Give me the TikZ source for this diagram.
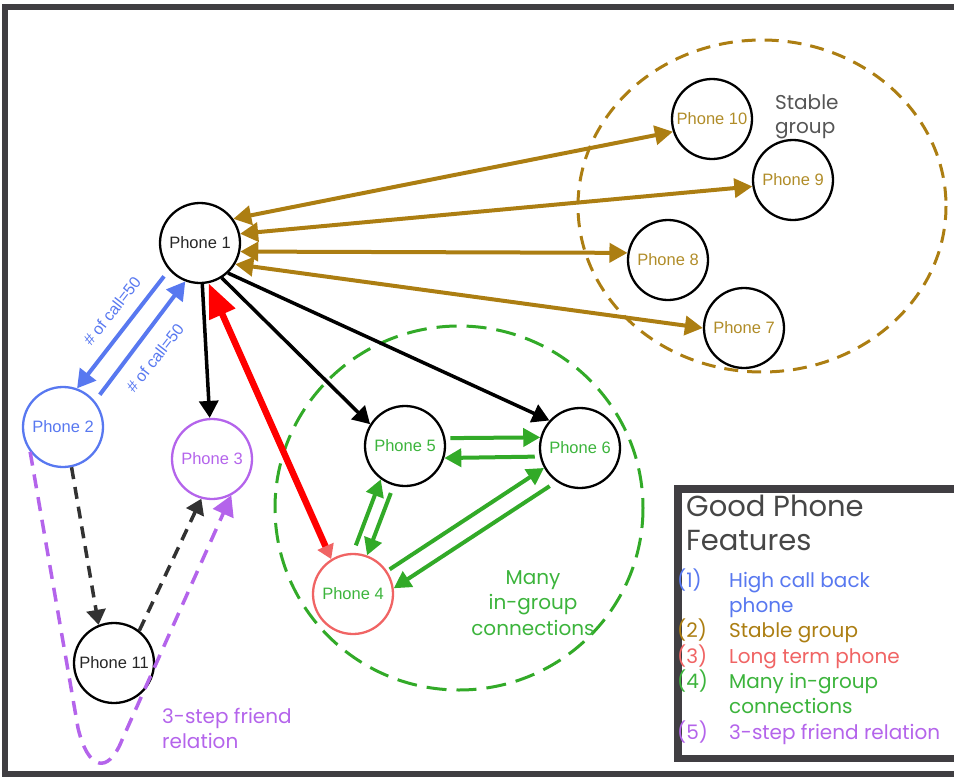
\documentclass[tikz,border=0pt]{standalone}
\usepackage{fontspec}
\setmainfont{Poppins}
\newfontfamily\arialf{Liberation Sans}
\usetikzlibrary{arrows.meta}
\definecolor{framec}{RGB}{64,62,66}
\definecolor{brownc}{RGB}{172,126,18}
\definecolor{browntxt}{RGB}{176,140,40}
\definecolor{bluec}{RGB}{88,120,240}
\definecolor{greenc}{RGB}{50,170,40}
\definecolor{greentxt}{RGB}{60,180,60}
\definecolor{redc}{RGB}{255,0,0}
\definecolor{pinkc}{RGB}{240,100,100}
\definecolor{purplec}{RGB}{180,100,235}
\definecolor{greytxt}{RGB}{85,85,85}
\definecolor{darkc}{RGB}{50,50,50}
\tikzset{
  phone/.style={circle, draw=black, line width=2.3pt, minimum size=80pt, inner sep=0pt, font=\arialf\fontsize{16.5}{19}\selectfont},
  brarrow/.style={draw=brownc, line width=4pt, {Triangle[length=18pt,width=19pt]}-{Triangle[length=18pt,width=19pt]}},
  blkarrow/.style={draw=black, line width=3.5pt, -{Triangle[length=17pt,width=19pt]}},
  grarrow/.style={draw=greenc, line width=4pt, -{Triangle[length=17pt,width=18pt]}},
  blarrow/.style={draw=bluec, line width=4pt, -{Triangle[length=18pt,width=20pt]}},
  dsharrow/.style={draw=darkc, line width=3.5pt, dash pattern=on 12pt off 8pt, -{Triangle[length=15pt,width=19pt]}},
  lbl/.style={anchor=base west, inner sep=0pt, font=\fontsize{20}{25.5}\selectfont},
  calllbl/.style={text=bluec, rotate=52, inner sep=0pt, font=\arialf\fontsize{16}{18}\selectfont},
}
\begin{document}
\begin{tikzpicture}[x=1pt,y=-1pt]
\useasboundingbox (0,0) rectangle (954,777);
% outer frame (open to the right)
\draw[framec, line width=6pt] (954,7) -- (5,7) -- (5,774) -- (954,774);

% group circles
\draw[brownc, line width=3pt, dash pattern=on 14pt off 9pt] (762,206) ellipse [x radius=184, y radius=166];
\draw[greenc, line width=3pt, dash pattern=on 20pt off 10pt] (459,508) ellipse [x radius=184, y radius=182];

% nodes
\node[phone, text=black!85] (p1) at (200,243) {Phone 1};
\node[phone, draw=bluec, text=bluec] (p2) at (63,427) {Phone 2};
\node[phone, draw=purplec, text=purplec] (p3) at (212,459) {Phone 3};
\node[phone, draw=pinkc, text=greentxt] (p4) at (353,594) {Phone 4};
\node[phone, text=greentxt] (p5) at (405,446) {Phone 5};
\node[phone, text=greentxt] (p6) at (580,448) {Phone 6};
\node[phone, text=browntxt] (p7) at (744,328) {Phone 7};
\node[phone, text=browntxt] (p8) at (668,260) {Phone 8};
\node[phone, text=browntxt] (p9) at (793,180) {Phone 9};
\node[phone, text=browntxt] (p10) at (712,119) {Phone 10};
\node[phone, text=black!85] (p11) at (114,663) {Phone 11};

% stable group arrows
\draw[brarrow] (p1.36) -- (p10.198);
\draw[brarrow] (p1.13) -- (p9.189);
\draw[brarrow] (p1.-12) -- (p8.170);
\draw[brarrow] (p1.-31) -- (p7.180);

% black arrows from phone 1
\draw[blkarrow] (p1) -- (p3);
\draw[blkarrow] (p1.-58) -- (p5.148);
\draw[blkarrow] (p1.-47) -- (p6.138);

% red long-term arrow
\draw[redc, line width=6.5pt, {Triangle[length=14pt,width=17pt,color=pinkc]}-{Triangle[length=34pt,width=27pt]}] (p4.122) -- (p1.-78);

% green in-group arrows
\draw[grarrow, shorten <=5pt] (p5.11) -- (p6.165);
\draw[grarrow, shorten <=5pt] (p6.192) -- (p5.-17);
\draw[grarrow, shorten <=8pt] (p4.90) -- (p5.234);
\draw[grarrow, shorten <=8pt] (p5.254) -- (p4.70);
\draw[grarrow, shorten <=3pt] (p4.34) -- (p6.209);
\draw[grarrow, shorten <=8pt] (p6.235) -- (p4.8);

% blue call-back arrows
\draw[blarrow, shorten <=8pt] (p1.221) -- (p2.70);
\draw[blarrow, shorten <=8pt] (p2.39) -- (p1.249);
\node[calllbl] (lb1) at (112,311) {\# of call=50};
\node[calllbl] (lb2) at (155,358) {\# of call=50};

% dashed 3-step path
\draw[dsharrow] (p2.-78) -- (p11.112);
\draw[dsharrow] (p11.52) -- (p3.255);
\draw[purplec, line width=3.5pt, dash pattern=on 14pt off 9pt, -{Triangle[length=20pt,width=22pt]}]
  (p2.217) -- (78,728) .. controls (88,770) and (108,775) .. (122,740) -- (p3.-62);

% texts
\node[lbl, text=greytxt] (stab) at (775,109) {Stable};
\node[lbl, text=greytxt] (stab2) at (775,133) {group};
\node[font=\fontsize{20}{25.5}\selectfont, text=greentxt, align=center, anchor=base] (many) at (533,635) {Many\\in-group\\connections};
\node[lbl, text=purplec] (three) at (162,723) {3-step friend};
\node[lbl, text=purplec] (three2) at (162,748) {relation};

% legend
\draw[framec, line width=7.5pt, fill=white] (960,489) -- (678,489) -- (678,758.5) -- (960,758.5);
\node[lbl, text=darkc!90, font=\fontsize{29}{34}\selectfont] (lg1) at (686,516) {Good Phone};
\node[lbl, text=darkc!90, font=\fontsize{29}{34}\selectfont] (lg2) at (686,550) {Features};
\node[lbl, text=bluec] (n1) at (677,587) {(1)};
\node[lbl, text=bluec] (t1) at (729,587) {High call back};
\node[lbl, text=bluec] (t1b) at (729,612) {phone};
\node[lbl, text=brownc] (n2) at (677,637) {(2)};
\node[lbl, text=brownc] (t2) at (729,637) {Stable group};
\node[lbl, text=pinkc] (n3) at (677,663) {(3)};
\node[lbl, text=pinkc] (t3) at (729,663) {Long term phone};
\node[lbl, text=greentxt] (n4) at (677,688) {(4)};
\node[lbl, text=greentxt] (t4) at (729,688) {Many in-group};
\node[lbl, text=greentxt] (t4b) at (729,713) {connections};
\node[lbl, text=purplec] (n5) at (677,739) {(5)};
\node[lbl, text=purplec] (t5) at (729,739) {3-step friend relation};
\end{tikzpicture}
\end{document}
